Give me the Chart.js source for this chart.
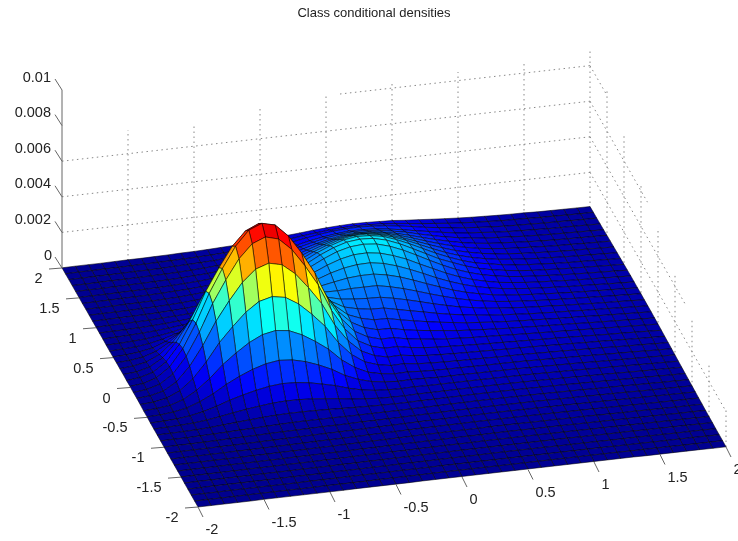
<!DOCTYPE html>
<html>
<head>
<meta charset="utf-8">
<title>Class conditional densities</title>
<script src="https://cdn.jsdelivr.net/npm/chart.js@4/dist/chart.umd.min.js"></script>
<style>
  html, body { margin: 0; padding: 0; background: #fff; }
  #myChart { display: block; filter: blur(0.4px); }
</style>
</head>
<body>
<canvas id="myChart" width="738" height="541"></canvas>
<script>
const chartTitle = "Class conditional densities";

const xTicks = [-2, -1.5, -1, -0.5, 0, 0.5, 1, 1.5, 2];
const yTicks = [2, 1.5, 1, 0.5, 0, -0.5, -1, -1.5, -2];
const zTicks = [0, 0.002, 0.004, 0.006, 0.008, 0.01];
const zTickLabels = ["0", "0.002", "0.004", "0.006", "0.008", "0.01"];

// the dotted grid stops at uneven heights in the picture
const backWallTops = [0.00733, 0.0073, 0.00767, 0.00798, 0.0083, 0.00848, 0.00857, 0.00888];
const sideWallTops = [0.00829, 0.00739, 0.00646, 0.00562, 0.00475, 0.0039, 0.00298, 0.00219];
const backLineLevels = [0.002, 0.004, 0.006, 0.008];
const backLineStarts = [-2, -2, -2, 0.106];
const sideLineEnds = [-2, -0.83, 0.31, 1.5];

// mesh rows run from y = 2 (back) to y = -2 (front), values in units of 1e-5
const gridX = [-2, -1.9, -1.8, -1.7, -1.6, -1.5, -1.4, -1.3, -1.2, -1.1, -1, -0.9, -0.8, -0.7, -0.6, -0.5, -0.4, -0.3, -0.2, -0.1, 0, 0.1, 0.2, 0.3, 0.4, 0.5, 0.6, 0.7, 0.8, 0.9, 1, 1.1, 1.2, 1.3, 1.4, 1.5, 1.6, 1.7, 1.8, 1.9, 2];
const gridY = [2, 1.9, 1.8, 1.7, 1.6, 1.5, 1.4, 1.3, 1.2, 1.1, 1, 0.9, 0.8, 0.7, 0.6, 0.5, 0.4, 0.3, 0.2, 0.1, 0, -0.1, -0.2, -0.3, -0.4, -0.5, -0.6, -0.7, -0.8, -0.9, -1, -1.1, -1.2, -1.3, -1.4, -1.5, -1.6, -1.7, -1.8, -1.9, -2];
const surfaceZ = [
  [1,2,2,2,3,4,4,5,6,8,9,11,14,17,21,27,32,39,45,52,57,61,63,62,59,56,49,44,38,33,28,24,21,18,16,15,12,11,10,9,8],
  [1,2,2,3,3,4,5,6,7,9,11,13,17,22,28,35,44,53,63,71,78,83,85,83,79,72,64,55,48,40,34,29,25,21,19,17,14,13,11,10,9],
  [2,2,3,3,4,5,5,6,9,11,13,16,22,29,36,47,58,71,84,96,105,110,112,108,102,92,81,68,58,48,40,34,28,24,21,19,16,15,13,11,10],
  [2,2,3,4,4,5,6,7,9,12,16,21,28,36,44,57,72,86,102,115,125,131,131,126,117,105,91,78,65,53,44,39,32,27,24,21,18,16,15,13,11],
  [2,3,3,4,5,6,7,9,11,15,19,25,32,43,55,71,89,109,127,143,154,160,159,152,139,125,106,89,73,60,49,41,36,31,26,23,20,18,16,14,12],
  [2,3,3,4,5,6,7,10,13,17,22,29,38,51,67,87,108,132,153,170,183,187,186,175,160,141,120,100,82,66,54,45,39,34,29,25,22,20,18,16,14],
  [2,3,4,5,6,7,9,12,15,20,25,34,46,62,82,105,132,158,183,202,215,220,215,202,182,159,134,111,90,73,59,49,41,36,32,27,24,22,19,17,15],
  [3,3,4,5,6,7,10,12,17,23,29,39,55,74,97,125,156,186,213,235,248,251,243,226,202,175,147,121,97,79,64,53,45,39,34,30,26,23,21,18,16],
  [3,4,4,5,7,8,11,14,19,26,33,47,64,86,115,148,181,216,244,268,281,282,270,249,222,190,158,128,103,83,68,56,48,41,36,32,28,25,22,20,17],
  [3,4,5,6,7,9,12,16,22,30,42,57,75,100,131,168,206,244,275,299,310,307,294,268,236,201,166,135,108,86,73,59,50,43,38,33,29,27,24,21,18],
  [3,4,5,7,8,12,15,19,26,36,49,65,89,117,149,187,227,266,298,321,329,325,307,278,242,205,168,139,111,89,73,61,51,44,39,35,31,28,25,22,19],
  [4,5,6,8,11,15,21,27,35,45,59,77,99,129,163,201,241,278,309,328,334,327,306,276,240,202,166,134,108,87,72,60,52,46,41,36,32,29,26,23,20],
  [4,6,8,12,16,23,31,39,51,63,78,95,116,142,174,208,243,275,301,317,319,309,287,259,223,189,155,126,102,84,69,60,52,46,42,37,33,30,27,24,21],
  [3,5,8,13,22,34,51,65,81,96,112,128,145,166,189,212,238,264,284,295,297,285,263,235,204,171,142,117,96,80,68,59,52,46,42,37,34,31,27,24,21],
  [3,6,10,20,35,58,87,110,135,155,172,185,196,205,215,223,234,248,261,267,267,254,234,208,180,153,127,106,89,75,65,58,52,47,42,38,34,31,28,25,21],
  [4,7,15,29,57,95,142,181,217,247,267,275,273,267,258,241,233,232,236,236,236,221,202,180,156,134,113,96,82,71,63,56,51,46,42,38,35,31,28,25,22],
  [5,9,19,43,85,146,218,278,332,375,396,399,382,353,320,271,237,219,211,206,204,190,173,154,134,116,99,87,75,67,60,55,50,46,41,38,34,31,28,25,21],
  [5,11,25,59,119,205,306,391,466,522,548,544,509,456,394,309,248,208,190,179,177,161,145,130,114,100,88,78,70,63,58,52,48,44,41,37,34,31,27,24,21],
  [6,12,31,74,153,262,393,499,597,666,696,684,633,555,466,346,259,199,170,153,152,136,122,109,97,87,77,71,64,59,54,51,47,43,40,37,33,30,27,24,21],
  [5,14,35,85,175,304,456,580,692,770,803,785,722,625,514,368,261,190,151,131,130,114,102,92,84,75,70,64,60,55,52,48,45,42,39,35,32,29,26,23,20],
  [6,14,37,90,184,319,478,609,726,808,838,820,750,646,526,369,252,173,133,112,112,96,86,78,71,67,62,59,56,52,49,46,43,40,37,34,31,28,25,22,19],
  [5,14,35,85,175,302,454,578,689,765,795,775,708,607,492,341,229,153,114,94,95,81,72,66,63,59,56,53,51,48,46,43,41,38,35,32,29,27,24,21,18],
  [6,12,30,73,152,260,389,495,590,656,681,664,605,519,421,291,195,129,95,78,80,69,62,58,55,53,51,49,47,45,43,41,38,36,33,31,28,25,22,20,17],
  [5,10,24,57,117,201,302,383,456,508,527,514,469,403,327,228,152,102,77,64,66,57,53,50,48,47,46,44,43,42,40,38,36,34,31,29,26,23,21,18,16],
  [3,8,17,41,83,142,212,269,319,355,370,361,329,284,232,163,112,77,60,51,53,48,45,44,43,42,41,41,40,39,37,35,33,31,29,26,24,22,19,17,15],
  [3,5,13,27,54,90,134,171,202,225,236,230,212,185,152,109,79,58,48,42,44,42,39,39,39,38,38,37,37,35,34,32,31,29,26,24,22,20,18,16,14],
  [2,4,8,17,32,53,79,100,118,132,139,136,127,111,94,71,53,42,37,35,37,35,35,35,35,35,34,34,33,32,31,29,28,26,24,22,20,18,16,14,12],
  [2,3,6,10,18,29,42,53,63,71,75,74,70,62,54,44,37,31,29,28,30,30,30,31,31,31,31,31,30,29,28,27,25,23,22,20,18,16,15,13,11],
  [2,3,4,6,10,16,22,28,33,37,39,39,38,36,33,30,28,26,25,25,26,26,27,27,28,28,28,27,27,26,25,24,22,21,19,18,16,15,13,11,10],
  [2,3,3,5,7,9,12,14,17,19,21,22,22,22,21,21,21,21,21,22,22,23,24,24,25,25,25,24,24,23,22,21,20,18,17,16,14,13,11,10,9],
  [1,2,2,3,4,6,7,8,10,11,12,13,14,14,15,16,16,17,17,18,19,20,21,21,21,22,21,21,21,20,19,18,17,16,15,14,12,11,10,9,8],
  [1,1,2,2,3,3,4,5,6,7,8,9,10,10,11,12,13,14,15,16,17,17,18,18,19,19,19,18,18,17,17,16,15,14,13,12,11,10,9,8,7],
  [1,1,1,2,2,3,3,4,4,5,6,7,8,8,9,10,11,12,13,14,14,15,15,16,16,16,16,16,15,15,14,14,13,12,11,10,9,8,7,7,6],
  [1,1,1,2,2,2,3,3,4,4,5,6,6,7,8,9,9,10,11,12,12,13,13,13,14,14,14,13,13,13,12,12,11,10,9,9,8,7,6,6,5],
  [1,1,1,1,2,2,2,3,3,4,4,5,5,6,7,7,8,9,9,10,10,11,11,11,12,12,12,11,11,11,10,10,9,9,8,7,7,6,5,5,4],
  [1,1,1,1,1,2,2,2,3,3,3,4,4,5,6,6,7,7,8,8,9,9,9,10,10,10,10,10,9,9,9,8,8,7,7,6,6,5,5,4,3],
  [0,1,1,1,1,1,2,2,2,3,3,3,4,4,5,5,6,6,6,7,7,8,8,8,8,8,8,8,8,8,7,7,6,6,6,5,5,4,4,3,3],
  [0,0,1,1,1,1,1,2,2,2,2,3,3,3,4,4,5,5,5,6,6,6,6,7,7,7,7,7,6,6,6,6,5,5,5,4,4,3,3,3,2],
  [0,0,0,1,1,1,1,1,1,2,2,2,3,3,3,3,4,4,4,5,5,5,5,5,5,5,5,5,5,5,5,5,4,4,4,3,3,3,3,2,2],
  [0,0,0,0,1,1,1,1,1,1,2,2,2,2,3,3,3,3,4,4,4,4,4,4,4,4,4,4,4,4,4,4,4,3,3,3,3,2,2,2,2],
  [0,0,0,0,0,1,1,1,1,1,1,1,2,2,2,2,2,3,3,3,3,3,3,3,3,3,3,3,3,3,3,3,3,3,2,2,2,2,2,1,1]
];
const zUnit = 1e-5;

// jet style colormap, position then r, g, b
const colorStops = [
  [0, 0, 0, 143],
  [0.11, 0, 0, 255],
  [0.42, 0, 255, 255],
  [0.52, 128, 255, 128],
  [0.62, 255, 255, 0],
  [0.76, 255, 128, 0],
  [0.93, 255, 0, 0],
  [1, 200, 0, 0]
];

// orthographic view read from the corners of the floor
function project(x, y, z) {
  const s = (x + 2) / 4;
  const t = (2 - y) / 4;
  return {
    x: 62 + 528 * s + 136 * t,
    y: 268 - 60 * s + 239 * t - 17800 * z
  };
}

function offset(p, dx, dy) {
  return { x: p.x + dx, y: p.y + dy };
}

function cellColor(v) {
  for (let i = 1; i < colorStops.length; i++) {
    const a = colorStops[i - 1];
    const b = colorStops[i];
    if (v <= b[0]) {
      const f = (v - a[0]) / (b[0] - a[0]);
      const c = [1, 2, 3].map(k => Math.round(a[k] + (b[k] - a[k]) * f));
      return "rgb(" + c.join(",") + ")";
    }
  }
  return "rgb(200,0,0)";
}

function lineSet(points, color, dash) {
  return {
    data: points,
    borderColor: color,
    borderWidth: 1,
    borderDash: dash || [],
    fill: false,
    pointRadius: 0
  };
}

function buildSurface() {
  const zMax = 0.00835;
  const cells = [];
  for (let j = 0; j < gridY.length - 1; j++) {
    for (let i = gridX.length - 2; i >= 0; i--) {
      const corners = [
        project(gridX[i], gridY[j], surfaceZ[j][i] * zUnit),
        project(gridX[i + 1], gridY[j], surfaceZ[j][i + 1] * zUnit),
        project(gridX[i + 1], gridY[j + 1], surfaceZ[j + 1][i + 1] * zUnit),
        project(gridX[i], gridY[j + 1], surfaceZ[j + 1][i] * zUnit)
      ];
      corners.push(corners[0]);
      cells.push({
        data: corners,
        backgroundColor: cellColor(surfaceZ[j + 1][i] * zUnit / zMax),
        borderColor: "rgba(0,0,0,0.6)",
        borderWidth: 0.9,
        fill: "shape",
        pointRadius: 0
      });
    }
  }
  // first dataset is painted last, so the front cells go first
  return cells.reverse();
}

function buildGrid() {
  const sets = [];
  const dotted = [1.5, 3.5];
  const gridColor = "#888";
  xTicks.slice(1).forEach((x, i) => {
    sets.push(lineSet([project(x, 2, 0), project(x, 2, backWallTops[i])], gridColor, dotted));
  });
  yTicks.slice(1).forEach((y, i) => {
    sets.push(lineSet([project(2, y, 0), project(2, y, sideWallTops[i])], gridColor, dotted));
  });
  backLineLevels.forEach((z, i) => {
    sets.push(lineSet([project(backLineStarts[i], 2, z), project(2, 2, z)], gridColor, dotted));
    sets.push(lineSet([project(2, 2, z), project(2, sideLineEnds[i], z)], gridColor, dotted));
  });
  return sets;
}

function buildAxes() {
  const sets = [];
  const axisColor = "#666";
  sets.push(lineSet([project(-2, 2, 0), project(-2, 2, 0.01)], axisColor));
  zTicks.forEach(z => {
    const p = project(-2, 2, z);
    sets.push(lineSet([p, offset(p, -7, -11)], axisColor));
  });
  yTicks.forEach(y => {
    const p = project(-2, y, 0);
    sets.push(lineSet([p, offset(p, -13, 1)], axisColor));
  });
  xTicks.forEach(x => {
    const p = project(x, -2, 0);
    sets.push(lineSet([p, offset(p, 5, 10)], axisColor));
  });
  return sets;
}

const axisText = {
  id: "axisText",
  afterDraw(chart) {
    const ctx = chart.ctx;
    const sx = chart.scales.x;
    const sy = chart.scales.y;
    const put = (text, p, dx, dy, align) => {
      ctx.textAlign = align;
      ctx.fillText(text, sx.getPixelForValue(p.x) + dx, sy.getPixelForValue(p.y) + dy);
    };
    ctx.save();
    ctx.fillStyle = "#222";
    ctx.textBaseline = "middle";
    ctx.font = "14.5px 'Liberation Sans', Arial, sans-serif";
    zTicks.forEach((z, i) => put(zTickLabels[i], project(-2, 2, z), i === 0 ? -10 : -11, -12.5, "right"));
    yTicks.forEach(y => put(String(y), project(-2, y, 0), -19.5, 11, "right"));
    xTicks.forEach(x => put(String(x), project(x, -2, 0), 7.5, 23, "left"));
    ctx.font = "13px 'Liberation Sans', Arial, sans-serif";
    put(chartTitle, { x: 374, y: 13 }, 0, 0, "center");
    ctx.restore();
  }
};

function createChart() {
  const ctx = document.getElementById("myChart");
  new Chart(ctx, {
    type: "line",
    data: {
      datasets: buildAxes().concat(buildSurface(), buildGrid())
    },
    options: {
      responsive: false,
      animation: false,
      events: [],
      elements: { line: { tension: 0 } },
      layout: { padding: 0 },
      plugins: {
        legend: { display: false },
        tooltip: { enabled: false },
        title: { display: false }
      },
      scales: {
        x: { type: "linear", min: 0, max: 738, display: false },
        y: { type: "linear", min: 0, max: 541, reverse: true, display: false }
      }
    },
    plugins: [axisText]
  });
}

document.addEventListener("DOMContentLoaded", createChart);
</script>
</body>
</html>
